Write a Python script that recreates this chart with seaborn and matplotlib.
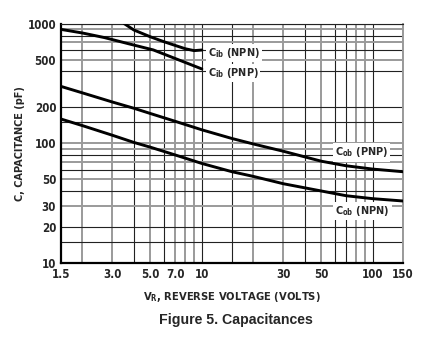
import pandas as pd
import matplotlib
matplotlib.use('Agg')
import matplotlib.pyplot as plt
import seaborn as sns

sns.set_style('white')
plt.rcParams['font.family'] = ['DejaVu Sans']
plt.rcParams['font.stretch'] = 'condensed'
plt.rcParams['font.weight'] = 'bold'
plt.rcParams['mathtext.fontset'] = 'custom'
plt.rcParams['mathtext.rm'] = 'DejaVu Sans:weight=bold:stretch=condensed'
plt.rcParams['mathtext.bf'] = 'DejaVu Sans:weight=bold:stretch=condensed'

# Curves (V_R in volts, C in pF)
cib_npn_v = [3.5, 4.0, 5.0, 6.0, 7.0, 8.0, 9.0, 10.0]
cib_npn_c = [1010, 890, 780, 710, 660, 620, 598, 605]

cib_pnp_v = [1.5, 2.0, 2.7, 3.75, 5.2, 7.2, 10.0]
cib_pnp_c = [900, 840, 768, 681, 606, 505, 420]

cob_pnp_v = [1.5, 2.0, 3.0, 4.0, 5.0, 7.0, 10, 15, 20, 30, 50, 70, 100, 150]
cob_pnp_c = [300, 265, 222, 197, 178, 153, 130, 110, 99, 86, 71, 65, 61, 58]

cob_npn_v = [1.5, 2.0, 3.0, 4.0, 5.0, 7.0, 10, 15, 20, 30, 50, 70, 100, 150]
cob_npn_c = [160, 141, 117, 102, 93, 80, 68, 58, 53, 46, 40, 36.5, 34.5, 33]

x_ticks = [1.5, 3.0, 5.0, 7.0, 10, 30, 50, 100, 150]
x_labels = ['1.5', '3.0', '5.0', '7.0', '10', '30', '50', '100', '150']
y_ticks = [10, 20, 30, 50, 100, 200, 500, 1000]
y_labels = ['10', '20', '30', '50', '100', '200', '500', '1000']

# grid positions (two line styles as in the printed chart)
vgrid_gray = [2, 3, 5, 7, 8, 9, 20, 30, 50, 80, 90, 150]
vgrid_black = [4, 6, 10, 15, 40, 60, 70, 100]
hgrid_gray = [30, 50, 70, 90, 100, 500, 700, 900]
hgrid_black = [15, 20, 40, 60, 80, 150, 200, 400, 600, 800, 1000]

frames = []
for name, v, c in [('Cib NPN', cib_npn_v, cib_npn_c), ('Cib PNP', cib_pnp_v, cib_pnp_c),
                   ('Cob PNP', cob_pnp_v, cob_pnp_c), ('Cob NPN', cob_npn_v, cob_npn_c)]:
    frames.append(pd.DataFrame({'V': v, 'C': c, 'curve': name}))
df = pd.concat(frames, ignore_index=True)

fig = plt.figure(figsize=(4.36, 3.52), dpi=100)
ax = fig.add_axes([0.140, 0.253, 0.784, 0.679])

for xv in vgrid_gray:
    ax.axvline(xv, color='#9a9a9a', lw=1.4, zorder=1)
for xv in vgrid_black:
    ax.axvline(xv, color='#222222', lw=0.8, zorder=1)
for yv in hgrid_gray:
    ax.axhline(yv, color='#9a9a9a', lw=1.4, zorder=1)
for yv in hgrid_black:
    ax.axhline(yv, color='#222222', lw=0.8, zorder=1)

sns.lineplot(data=df, x='V', y='C', hue='curve', units='curve', estimator=None,
             palette=['black'] * 4, linewidth=2.1, legend=False, ax=ax, zorder=3)

ax.set_xscale('log')
ax.set_yscale('log')
ax.set_xlim(1.5, 150)
ax.set_ylim(10, 1000)
ax.set_xticks(x_ticks)
ax.set_xticklabels(x_labels)
ax.set_yticks(y_ticks)
ax.set_yticklabels(y_labels)
ax.minorticks_off()
ax.tick_params(length=0, labelsize=8.3)
ax.tick_params(axis='x', pad=4)
ax.tick_params(axis='y', pad=3.5)
for lab in ax.get_xticklabels() + ax.get_yticklabels():
    lab.set_fontweight('bold')

for side in ['left', 'bottom']:
    ax.spines[side].set_color('black')
    ax.spines[side].set_linewidth(1.6)
ax.spines['top'].set_linewidth(0.8)
ax.spines['top'].set_color('#222222')
ax.spines['right'].set_linewidth(1.4)
ax.spines['right'].set_color('#9a9a9a')

ax.set_xlabel(r'V$_{\mathbf{R}}$, REVERSE VOLTAGE (VOLTS)', fontsize=8, fontweight='bold', labelpad=6)
ax.set_ylabel('C, CAPACITANCE (pF)', fontsize=7.8, fontweight='bold')
ax.yaxis.set_label_coords(-0.105, 0.5)

box = dict(facecolor='white', edgecolor='none', pad=1.5)
ax.text(10.8, 575, r'C$_{\mathbf{ib}}$ (NPN)', fontsize=7.8, fontweight='bold', va='center', ha='left', bbox=box, zorder=4)
ax.text(10.8, 390, r'C$_{\mathbf{ib}}$ (PNP)', fontsize=7.8, fontweight='bold', va='center', ha='left', bbox=box, zorder=4)
ax.text(86, 84, r'C$_{\mathbf{ob}}$ (PNP)', fontsize=7.8, fontweight='bold', va='center', ha='center', bbox=box, zorder=4)
ax.text(87, 27, r'C$_{\mathbf{ob}}$ (NPN)', fontsize=7.8, fontweight='bold', va='center', ha='center', bbox=box, zorder=4)

fig.text(0.541, 0.09, 'Figure 5. Capacitances', ha='center', va='center', fontsize=10.2,
         fontweight='bold', family=['Liberation Sans', 'DejaVu Sans'], fontstretch='normal')

fig.savefig('out.png', dpi=100)
